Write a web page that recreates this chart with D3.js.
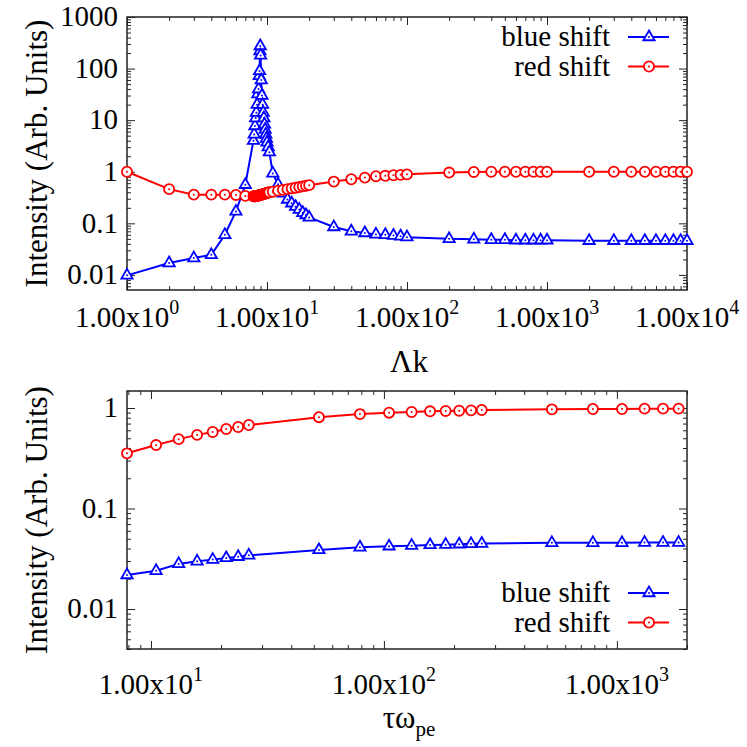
<html>
<head>
<meta http-equiv="Content-Type" content="text/html;charset=utf-8"/>
<script type="text/javascript" src="https://d3js.org/d3.v7.min.js"></script>
<style type="text/css">
  body { margin: 0; background: #fff; }
  .tick line { stroke: #222; stroke-width: 1; }
  .domain { display: none; }
  .lab { font-family: "Liberation Serif"; fill: #000; }
</style>
</head>
<body>
<div id="body"></div>
<script type="text/javascript">

// ---- top panel: intensity vs Lambda k
var topX = [1, 2, 3, 4, 5, 6, 7,
  8.0, 8.1, 8.2, 8.3, 8.4, 8.5, 8.6, 8.7, 8.8, 8.85, 8.9, 8.95, 9.0, 9.1, 9.2, 9.3, 9.4, 9.5, 9.6, 9.7, 9.8, 9.9, 10.0, 10.2, 10.4,
  11, 12, 13, 14, 15, 16, 17, 18, 19, 20,
  30, 40, 50, 60, 70, 80, 90, 100,
  200, 300, 400, 500, 600, 700, 800, 900, 1000,
  2000, 3000, 4000, 5000, 6000, 7000, 8000, 9000, 10000];
var topBlue = [0.0098, 0.017, 0.0212, 0.0245, 0.06, 0.17, 0.56,
  4.0, 5.3, 7.7, 11, 14, 20, 32, 40, 72, 90, 219, 274, 180, 60, 30, 20, 14, 11, 8.3, 6.6, 5.3, 4.4, 3.7, 3.0, 2.4,
  0.93, 0.57, 0.38, 0.29, 0.245, 0.21, 0.185, 0.16, 0.145, 0.13,
  0.085, 0.07, 0.065, 0.061, 0.06, 0.058, 0.056, 0.054,
  0.05, 0.049, 0.048, 0.048, 0.047, 0.047, 0.047, 0.047, 0.047,
  0.046, 0.046, 0.046, 0.046, 0.046, 0.046, 0.046, 0.046, 0.046];
var topRed = [1.0, 0.46, 0.36, 0.36, 0.36, 0.355, 0.34,
  0.335, 0.335, 0.335, 0.335, 0.34, 0.34, 0.345, 0.345, 0.35, 0.35, 0.35, 0.355, 0.355, 0.36, 0.36, 0.365, 0.37, 0.37, 0.375, 0.38, 0.38, 0.385, 0.39, 0.395, 0.40,
  0.41, 0.43, 0.445, 0.46, 0.475, 0.49, 0.505, 0.52, 0.535, 0.55,
  0.645, 0.716, 0.77, 0.82, 0.835, 0.855, 0.87, 0.89,
  0.965, 0.99, 1.0, 1.0, 1.0, 1.0, 1.0, 1.0, 1.0,
  1.0, 1.0, 1.0, 1.0, 1.0, 1.0, 1.0, 1.0, 1.0];

// ---- bottom panel: intensity vs tau omega_pe
var botX = [7.89, 10.52, 13.15, 15.78, 18.41, 21.04, 23.67, 26.3,
  52.6, 78.9, 105.2, 131.5, 157.8, 184.1, 210.4, 236.7, 263,
  526, 789, 1052, 1315, 1578, 1841];
var botBlue = [0.0218, 0.024, 0.0281, 0.0298, 0.031, 0.0322, 0.0331, 0.0342,
  0.0387, 0.0411, 0.0421, 0.0427, 0.0434, 0.0437, 0.0441, 0.0445, 0.0448,
  0.0455, 0.0455, 0.0455, 0.0458, 0.0458, 0.0458];
var botRed = [0.354, 0.428, 0.49, 0.54, 0.577, 0.618, 0.647, 0.677,
  0.81, 0.87, 0.898, 0.912, 0.927, 0.934, 0.94, 0.947, 0.955,
  0.97, 0.977, 0.977, 0.985, 0.985, 0.985];

// tick labels
var topXTicks = [1, 10, 100, 1000, 10000];
var topXExp = ["0", "1", "2", "3", "4"];
var topYTicks = [0.01, 0.1, 1, 10, 100, 1000];
var topYLabels = ["0.01", "0.1", "1", "10", "100", "1000"];
var botXTicks = [10, 100, 1000];
var botXExp = ["1", "2", "3"];
var botYTicks = [0.01, 0.1, 1];
var botYLabels = ["0.01", "0.1", "1"];

var seriesNames = ["blue shift", "red shift"];
var BLUE = "#0000ff", RED = "#ff0000";

var W = 747, H = 747;
var svg = d3.select("#body").append("svg")
    .attr("width", W)
    .attr("height", H);

function logTicks(dom) {
    var out = [];
    for (var e = Math.floor(Math.log10(dom[0])); e <= Math.ceil(Math.log10(dom[1])); e++) {
        for (var k = 1; k < 10; k++) {
            var v = k * Math.pow(10, e);
            if (v >= dom[0] * 0.9999 && v <= dom[1] * 1.0001) out.push({v: v, major: k == 1});
        }
    }
    return out;
}

function txt(sel, size) {
    return sel.classed("lab", true).style("font-size", size + "px");
}

function drawPanel(p) {
    var x = d3.scaleLog().domain(p.xdom).range([p.left, p.right]);
    var y = d3.scaleLog().domain(p.ydom).range([p.bottom, p.top]);
    var g = svg.append("g");

    var xt = logTicks(p.xdom), yt = logTicks(p.ydom);
    var xMaj = xt.filter(function(d) { return d.major; }).map(function(d) { return d.v; });
    var xMin = xt.filter(function(d) { return !d.major; }).map(function(d) { return d.v; });
    var yMaj = yt.filter(function(d) { return d.major; }).map(function(d) { return d.v; });
    var yMin = yt.filter(function(d) { return !d.major; }).map(function(d) { return d.v; });

    // inward ticks on all four sides
    [[xMaj, 8], [xMin, 4]].forEach(function(t) {
        g.append("g").attr("transform", "translate(0," + p.bottom + ")")
            .call(d3.axisBottom(x).tickValues(t[0]).tickSize(-t[1]).tickFormat(""));
        g.append("g").attr("transform", "translate(0," + p.top + ")")
            .call(d3.axisTop(x).tickValues(t[0]).tickSize(-t[1]).tickFormat(""));
    });
    [[yMaj, 8], [yMin, 4]].forEach(function(t) {
        g.append("g").attr("transform", "translate(" + p.left + ",0)")
            .call(d3.axisLeft(y).tickValues(t[0]).tickSize(-t[1]).tickFormat(""));
        g.append("g").attr("transform", "translate(" + p.right + ",0)")
            .call(d3.axisRight(y).tickValues(t[0]).tickSize(-t[1]).tickFormat(""));
    });

    g.append("rect")
        .attr("x", p.left).attr("y", p.top)
        .attr("width", p.right - p.left).attr("height", p.bottom - p.top)
        .attr("fill", "none").attr("stroke", "#222").attr("stroke-width", 1.5);

    // tick labels
    txt(g.selectAll("text.ylab").data(p.yTicks).enter().append("text")
        .attr("class", "ylab")
        .attr("x", p.left - 9)
        .attr("y", function(d) { return y(d); })
        .attr("dy", "0.32em")
        .attr("text-anchor", "end"), 29)
        .text(function(d, i) { return p.yLabels[i]; });

    var xl = txt(g.selectAll("text.xlab").data(p.xTicks).enter().append("text")
        .attr("class", "xlab")
        .attr("x", function(d) { return x(d); })
        .attr("y", p.xLabY)
        .attr("text-anchor", "middle"), 29);
    xl.append("tspan").text("1.00x10");
    xl.append("tspan").attr("dy", -13).style("font-size", "20px")
        .text(function(d, i) { return p.xExp[i]; });

    // axis titles
    txt(g.append("text")
        .attr("transform", "translate(" + 47 + "," + ((p.top + p.bottom) / 2) + ") rotate(-90)")
        .attr("text-anchor", "middle"), 31)
        .text("Intensity (Arb. Units)");
    p.xTitle(txt(g.append("text")
        .attr("x", (p.left + p.right) / 2 + 2)
        .attr("y", p.xTitleY)
        .attr("text-anchor", "middle"), 31));

    // series
    var line = d3.line()
        .x(function(d) { return x(d[0]); })
        .y(function(d) { return y(d[1]); });
    var series = [
        {name: seriesNames[0], color: BLUE, sym: d3.symbolTriangle, size: 55, data: d3.zip(p.xs, p.blue)},
        {name: seriesNames[1], color: RED, sym: d3.symbolCircle, size: 80, data: d3.zip(p.xs, p.red)}
    ];
    series.forEach(function(s) {
        g.append("path").datum(s.data)
            .attr("d", line)
            .attr("fill", "none").attr("stroke", s.color).attr("stroke-width", 2);
        var m = g.selectAll(null).data(s.data).enter().append("g")
            .attr("transform", function(d) { return "translate(" + x(d[0]) + "," + y(d[1]) + ")"; });
        marker(m, s);
    });

    // legend
    series.forEach(function(s, i) {
        var ly = p.legY + i * 29.5;
        txt(g.append("text")
            .attr("x", 610).attr("y", ly + 9)
            .attr("text-anchor", "end"), 29)
            .text(s.name);
        g.append("line")
            .attr("x1", 628).attr("x2", 669).attr("y1", ly).attr("y2", ly)
            .attr("stroke", s.color).attr("stroke-width", 2);
        marker(g.append("g").attr("transform", "translate(649," + ly + ")"), s);
    });
}

function marker(sel, s) {
    sel.append("path")
        .attr("d", d3.symbol().type(s.sym).size(s.size))
        .attr("fill", "#fff").attr("stroke", s.color).attr("stroke-width", 1.8);
    sel.append("circle").attr("r", 1).attr("fill", s.color);
}

drawPanel({
    left: 127, right: 687, top: 17, bottom: 290,
    xdom: [1, 10000], ydom: [0.0051, 1000],
    xs: topX, blue: topBlue, red: topRed,
    xTicks: topXTicks, xExp: topXExp, yTicks: topYTicks, yLabels: topYLabels,
    xLabY: 327, xTitleY: 372, legY: 37,
    xTitle: function(t) { t.text("\u039Bk"); }
});

drawPanel({
    left: 127, right: 687, top: 391, bottom: 649,
    xdom: [7.89, 2000], ydom: [0.004, 1.476],
    xs: botX, blue: botBlue, red: botRed,
    xTicks: botXTicks, xExp: botXExp, yTicks: botYTicks, yLabels: botYLabels,
    xLabY: 694, xTitleY: 728, legY: 593,
    xTitle: function(t) {
        t.append("tspan").text("\u03C4\u03C9");
        t.append("tspan").attr("dy", 8).style("font-size", "21px").text("pe");
    }
});

</script>
</body>
</html>
